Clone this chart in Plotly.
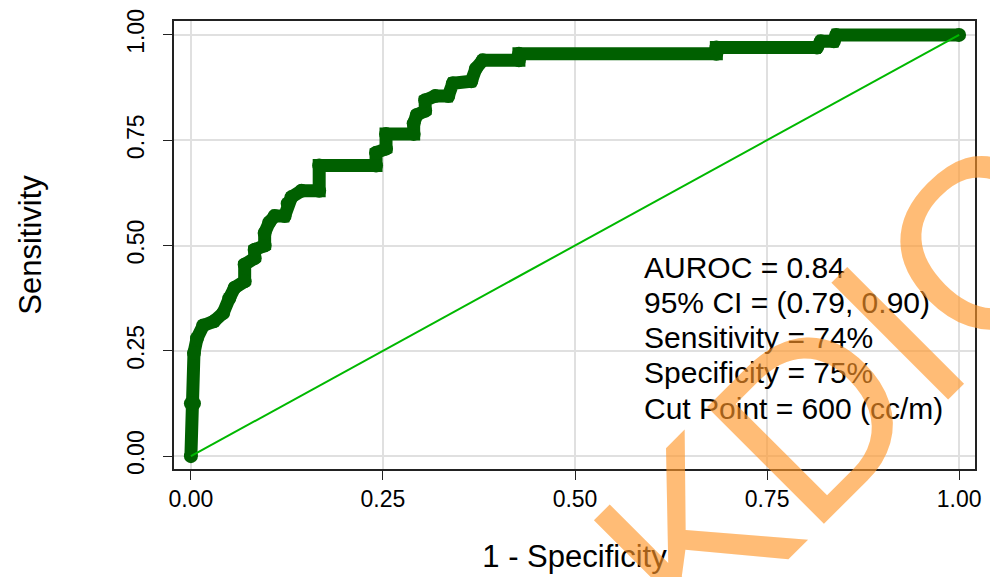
import plotly.graph_objects as go

# ROC curve corner points (1 - specificity, sensitivity)
fpr = [0.000, 0.000, 0.004, 0.004, 0.008, 0.016, 0.030, 0.042, 0.050, 0.057,
       0.070, 0.070, 0.083, 0.083, 0.096, 0.096, 0.102, 0.109, 0.122, 0.126,
       0.131, 0.144, 0.167, 0.167, 0.241, 0.241, 0.254, 0.254, 0.290, 0.290,
       0.294, 0.305, 0.305, 0.318, 0.335, 0.341, 0.365, 0.371, 0.380, 0.427,
       0.427, 0.684, 0.684, 0.815, 0.820, 0.837, 0.840, 1.000]
tpr = [0.000, 0.125, 0.125, 0.245, 0.280, 0.310, 0.320, 0.340, 0.375, 0.400,
       0.415, 0.455, 0.470, 0.490, 0.500, 0.530, 0.555, 0.570, 0.570, 0.600,
       0.615, 0.630, 0.630, 0.690, 0.690, 0.720, 0.730, 0.765, 0.765, 0.790,
       0.810, 0.820, 0.845, 0.855, 0.855, 0.885, 0.890, 0.920, 0.940, 0.940,
       0.955, 0.955, 0.970, 0.970, 0.985, 0.985, 1.000, 1.000]

ref_x = [0, 1]
ref_y = [0, 1]

tick_vals = [0, 0.25, 0.5, 0.75, 1.0]
tick_text = ["0.00", "0.25", "0.50", "0.75", "1.00"]

stats_lines = ["AUROC = 0.84", "95% CI = (0.79, 0.90)", "Sensitivity = 74%",
               "Specificity = 75%", "Cut Point = 600 (cc/m)"]

FONT = "Liberation Sans, Arial, Helvetica, sans-serif"

fig = go.Figure()
fig.add_trace(go.Scatter(
    x=fpr, y=tpr, mode="lines+markers",
    line=dict(color="#006000", width=13),
    marker=dict(color="#006000", size=14, line=dict(width=0)),
    showlegend=False, hoverinfo="skip"))
fig.add_trace(go.Scatter(
    x=ref_x, y=ref_y, mode="lines",
    line=dict(color="#00b800", width=2),
    showlegend=False, hoverinfo="skip"))

# statistics block, one annotation per line
text_x = 0.587
text_y0 = 0.448
text_step = 0.0835
for i, line in enumerate(stats_lines):
    fig.add_annotation(
        x=text_x, y=text_y0 - i * text_step, xref="x", yref="y",
        xanchor="left", yanchor="middle", align="left", showarrow=False,
        text=line, font=dict(family=FONT, size=30, color="black"))

# watermark
fig.add_annotation(
    x=0.938, y=0.325, xref="x", yref="y", xanchor="center", yanchor="middle",
    showarrow=False, text="KDIGO", textangle=-45,
    font=dict(family=FONT, size=240, color="rgba(255,150,40,0.64)"))

axis_common = dict(
    tickvals=tick_vals, ticktext=tick_text,
    showgrid=True, gridcolor="#e0e0e0", gridwidth=2,
    zeroline=False, showline=True, mirror=True,
    linecolor="#222222", linewidth=1.5,
    ticks="outside", ticklen=9, tickwidth=1, tickcolor="#222222",
    tickfont=dict(family=FONT, size=23, color="black"),
)

fig.update_xaxes(
    range=[-0.022, 1.0207],
    title=dict(text="1 - Specificity", font=dict(family=FONT, size=31, color="black"),
               standoff=34),
    **axis_common)
fig.update_yaxes(
    range=[-0.0305, 1.033], tickangle=-90, ticklabelstandoff=10,
    title=dict(text="Sensitivity", font=dict(family=FONT, size=31, color="black"),
               standoff=72),
    **axis_common)

fig.update_layout(
    width=990, height=577,
    margin=dict(l=174, r=9, t=17, b=107),
    paper_bgcolor="white", plot_bgcolor="white",
    font=dict(family=FONT),
)

fig.write_html("out.html")
